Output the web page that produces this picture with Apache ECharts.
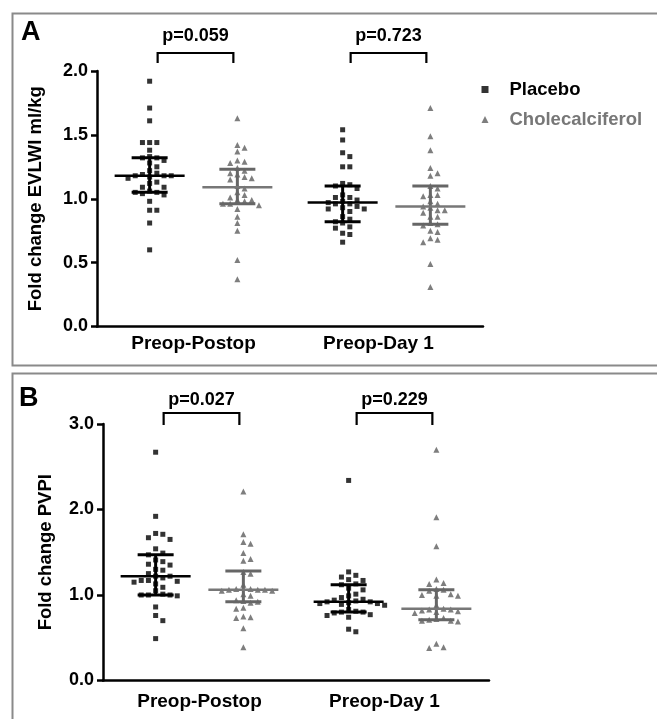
<!DOCTYPE html>
<html>
<head>
<meta charset="utf-8">
<script src="https://cdn.jsdelivr.net/npm/echarts@6/dist/echarts.min.js"></script>
<style>
html,body{margin:0;padding:0;background:#fff;}
#chart{width:657px;height:719px;}
</style>
</head>
<body>
<div id="chart"></div>
<script>
// ---------- data ----------
const categories = ['Preop-Postop', 'Preop-Day 1'];
const groups = ['Placebo', 'Cholecalciferol'];

const evlwiPlaceboPostop = [1.92,1.71,1.61,1.44,1.44,1.44,1.38,1.33,1.32,1.32,1.30,1.28,1.25,1.22,1.20,1.19,1.18,1.18,1.18,1.17,1.16,1.13,1.12,1.09,1.09,1.06,1.05,1.05,1.04,1.03,0.98,0.91,0.91,0.81,0.60];
const evlwiCholePostop   = [1.63,1.42,1.40,1.37,1.30,1.29,1.28,1.24,1.22,1.20,1.19,1.17,1.16,1.15,1.10,1.08,1.05,1.03,1.01,0.99,0.99,0.98,0.96,0.96,0.95,0.92,0.86,0.81,0.75,0.52,0.37];
const evlwiPlaceboDay1   = [1.54,1.46,1.36,1.33,1.25,1.25,1.12,1.11,1.10,1.08,1.03,1.01,1.01,0.99,0.98,0.97,0.96,0.96,0.94,0.93,0.92,0.92,0.90,0.86,0.84,0.82,0.81,0.78,0.77,0.73,0.72,0.66];
const evlwiCholeDay1     = [1.71,1.49,1.38,1.24,1.20,1.18,1.10,1.08,1.03,1.03,1.02,0.98,0.96,0.94,0.93,0.91,0.91,0.89,0.86,0.86,0.81,0.80,0.79,0.75,0.74,0.69,0.68,0.66,0.49,0.31];

const pvpiPlaceboPostop = [2.67,1.92,1.72,1.71,1.67,1.65,1.54,1.49,1.47,1.41,1.39,1.36,1.35,1.30,1.29,1.25,1.22,1.22,1.20,1.17,1.17,1.16,1.15,1.13,1.09,1.05,1.01,1.00,1.00,1.00,0.99,0.86,0.76,0.70,0.49];
const pvpiCholePostop   = [2.21,1.71,1.62,1.60,1.49,1.42,1.40,1.27,1.25,1.12,1.07,1.07,1.06,1.06,1.06,1.05,1.05,1.01,0.99,0.94,0.93,0.92,0.91,0.85,0.84,0.75,0.74,0.73,0.61,0.39];
const pvpiPlaceboDay1   = [2.34,1.27,1.23,1.21,1.18,1.17,1.13,1.12,1.08,1.06,1.01,0.99,0.97,0.95,0.94,0.93,0.92,0.92,0.91,0.90,0.90,0.89,0.88,0.83,0.81,0.80,0.80,0.79,0.77,0.76,0.74,0.60,0.57];
const pvpiCholeDay1     = [2.70,1.91,1.57,1.18,1.14,1.13,1.07,1.06,1.05,1.01,1.00,0.99,0.99,0.88,0.84,0.83,0.83,0.82,0.81,0.80,0.79,0.73,0.72,0.71,0.70,0.70,0.69,0.43,0.39,0.38];

// median and interquartile range per column (Placebo/Chole Postop, Placebo/Chole Day 1)
const evlwiMedian = [1.18, 1.09, 0.97, 0.94];
const evlwiQ1     = [1.05, 0.96, 0.82, 0.80];
const evlwiQ3     = [1.32, 1.23, 1.10, 1.10];
const pvpiMedian  = [1.22, 1.06, 0.92, 0.84];
const pvpiQ1      = [1.00, 0.92, 0.80, 0.71];
const pvpiQ3      = [1.47, 1.28, 1.12, 1.06];

const evlwiPValues = ['p=0.059', 'p=0.723'];
const pvpiPValues  = ['p=0.027', 'p=0.229'];

const evlwiYMax = 2.0, evlwiYInterval = 0.5;
const pvpiYMax = 3.0, pvpiYInterval = 1.0;

// ---------- layout ----------
const FONT = "'Liberation Sans', Arial, sans-serif";
const COLORS = ['#000000', '#5e5e5e'];
const SYMBOLS = ['rect', 'triangle'];
const SYMSIZE = [5, 6];
const XMAX = 4.4;
const COLPOS = [0.6, 1.6, 2.8, 3.8];
const gridA = {left: 97, top: 71, width: 386, height: 255.5};
const gridB = {left: 103, top: 424, width: 386, height: 256.5};

function swarm(values, pos, pxPerY, pxPerX, d, dv) {
  const order = values.map((v, i) => i).sort((a, b) => values[b] - values[a]);
  const placed = [];
  const out = new Array(values.length);
  order.forEach(i => {
    const y = values[i] * pxPerY;
    let k = 0, chosen = null;
    while (chosen === null) {
      const cands = k === 0 ? [0] : [k * d, -k * d];
      for (const c of cands) {
        const hit = placed.some(p => Math.abs(p.x - c) < d - 0.01 && Math.abs(p.y - y) < dv);
        if (!hit) { chosen = c; break; }
      }
      k++;
    }
    placed.push({x: chosen, y: y});
    out[i] = [pos + chosen / pxPerX, values[i]];
  });
  return out;
}

function panelSeries(cols, grid, yMax, xIdx, yIdx, med, q1, q3, pvals, brk) {
  const pxPerY = grid.height / yMax;
  const pxPerX = grid.width / XMAX;
  const series = [];
  cols.forEach((vals, c) => {
    const g = c % 2;
    series.push({
      type: 'scatter', name: groups[g], xAxisIndex: xIdx, yAxisIndex: yIdx,
      symbol: SYMBOLS[g], symbolSize: SYMSIZE[g],
      itemStyle: {color: COLORS[g]},
      data: swarm(vals, COLPOS[c], pxPerY, pxPerX, 7.2, 6),
      z: 2, silent: true
    });
  });
  series.push({
    type: 'custom', xAxisIndex: xIdx, yAxisIndex: yIdx, z: 5, silent: true,
    data: COLPOS.map((p, i) => [p, med[i], q1[i], q3[i]]),
    renderItem: function (params, api) {
      const pos = api.value(0);
      const m = api.coord([pos, api.value(1)]);
      const a = api.coord([pos, api.value(2)]);
      const b = api.coord([pos, api.value(3)]);
      const col = params.dataIndex % 2 === 0 ? '#000' : '#666';
      const medCol = params.dataIndex % 2 === 0 ? '#000' : '#777';
      const x = m[0];
      return {type: 'group', children: [
        {type: 'line', shape: {x1: x, y1: a[1], x2: x, y2: b[1]}, style: {stroke: col, lineWidth: 3}},
        {type: 'line', shape: {x1: x - 18, y1: a[1], x2: x + 18, y2: a[1]}, style: {stroke: col, lineWidth: 3}},
        {type: 'line', shape: {x1: x - 18, y1: b[1], x2: x + 18, y2: b[1]}, style: {stroke: col, lineWidth: 3}},
        {type: 'line', shape: {x1: x - 35, y1: m[1], x2: x + 35, y2: m[1]}, style: {stroke: medCol, lineWidth: 2.5}}
      ]};
    }
  });
  series.push({
    type: 'custom', xAxisIndex: xIdx, yAxisIndex: yIdx, z: 5, silent: true, clip: false,
    data: [[COLPOS[0], COLPOS[1], 0], [COLPOS[2], COLPOS[3], 1]],
    renderItem: function (params, api) {
      const l = api.coord([api.value(0), yMax]);
      const r = api.coord([api.value(1), yMax]);
      const top = l[1];
      const x1 = l[0] + 8, x2 = r[0] - 4;
      const yH = top - brk.h, yV = top - brk.v;
      return {type: 'group', children: [
        {type: 'polyline', shape: {points: [[x1, yV], [x1, yH], [x2, yH], [x2, yV]]},
         style: {stroke: '#000', lineWidth: 2.2, fill: null}},
        {type: 'text', style: {text: pvals[api.value(2)], x: (x1 + x2) / 2, y: top - brk.t,
          align: 'center', verticalAlign: 'middle', fontSize: 18, fontWeight: 'bold',
          fontFamily: FONT, fill: '#000'}}
      ]};
    }
  });
  return series;
}

function yAxisCfg(grid, yMax, interval, name, gap) {
  return {
    type: 'value', gridIndex: grid, min: 0, max: yMax, interval: interval,
    name: name, nameLocation: 'middle', nameGap: gap,
    nameTextStyle: {fontSize: 18.5, fontWeight: 'bold', fontFamily: FONT, color: '#000'},
    axisLine: {show: true, lineStyle: {color: '#000', width: 2.5}},
    axisTick: {show: true, length: 6, lineStyle: {color: '#000', width: 2.5}},
    axisLabel: {fontSize: 18, fontWeight: 'bold', fontFamily: FONT, color: '#000', margin: 9,
      formatter: v => v.toFixed(1)},
    splitLine: {show: false}
  };
}
function xCatCfg(grid, margin) {
  return {
    type: 'category', gridIndex: grid, boundaryGap: true,
    data: [categories[0], {value: categories[1], textStyle: {padding: [0, 16, 0, 0]}}],
    axisLine: {show: true, onZero: false, lineStyle: {color: '#000', width: 2.5}},
    axisTick: {show: false},
    axisLabel: {fontSize: 19, fontWeight: 'bold', fontFamily: FONT, color: '#000', margin: margin},
    splitLine: {show: false}
  };
}
function xValCfg(grid) {
  return {type: 'value', gridIndex: grid, min: 0, max: XMAX, show: false, splitLine: {show: false}};
}

const chart = echarts.init(document.getElementById('chart'), null, {renderer: 'canvas'});

const series = [].concat(
  panelSeries([evlwiPlaceboPostop, evlwiCholePostop, evlwiPlaceboDay1, evlwiCholeDay1],
    gridA, evlwiYMax, 1, 0, evlwiMedian, evlwiQ1, evlwiQ3, evlwiPValues, {h: 18, v: 8, t: 35}),
  panelSeries([pvpiPlaceboPostop, pvpiCholePostop, pvpiPlaceboDay1, pvpiCholeDay1],
    gridB, pvpiYMax, 3, 1, pvpiMedian, pvpiQ1, pvpiQ3, pvpiPValues, {h: 11, v: -1, t: 24})
);

chart.setOption({
  animation: false,
  backgroundColor: '#fff',
  textStyle: {fontFamily: FONT},
  grid: [
    Object.assign({containLabel: false}, gridA),
    Object.assign({containLabel: false}, gridB)
  ],
  xAxis: [xCatCfg(0, 8), xValCfg(0), xCatCfg(1, 12), xValCfg(1)],
  yAxis: [
    yAxisCfg(0, evlwiYMax, evlwiYInterval, 'Fold change EVLWI ml/kg', 52),
    yAxisCfg(1, pvpiYMax, pvpiYInterval, 'Fold change PVPI', 48)
  ],
  legend: {
    orient: 'vertical', left: 476.5, top: 74.5, itemWidth: 7, itemHeight: 7, itemGap: 10,
    selectedMode: false,
    data: [{name: groups[0], icon: SYMBOLS[0]}, {name: groups[1], icon: SYMBOLS[1]}],
    formatter: n => n === groups[0] ? '{p|' + n + '}' : '{c|' + n + '}',
    textStyle: {
      fontSize: 18.5, fontWeight: 'bold', fontFamily: FONT, lineHeight: 20,
      rich: {
        p: {color: '#000', fontSize: 18.5, fontWeight: 'bold', fontFamily: FONT, padding: [0, 0, 0, 16]},
        c: {color: '#777', fontSize: 18.5, fontWeight: 'bold', fontFamily: FONT, padding: [0, 0, 0, 16]}
      }
    }
  },
  graphic: [
    {type: 'rect', left: 10, top: 11, shape: {width: 700, height: 352}, z: 0, silent: true,
      style: {fill: null, stroke: '#8a8a8a', lineWidth: 2}},
    {type: 'rect', left: 10, top: 371, shape: {width: 700, height: 400}, z: 0, silent: true,
      style: {fill: null, stroke: '#8a8a8a', lineWidth: 2}},
    {type: 'text', left: 21, top: 19, silent: true,
      style: {text: 'A', fontSize: 27, fontWeight: 'bold', fontFamily: FONT, fill: '#000'}},
    {type: 'text', left: 19, top: 385, silent: true,
      style: {text: 'B', fontSize: 27, fontWeight: 'bold', fontFamily: FONT, fill: '#000'}}
  ],
  series: series
});
</script>
</body>
</html>
